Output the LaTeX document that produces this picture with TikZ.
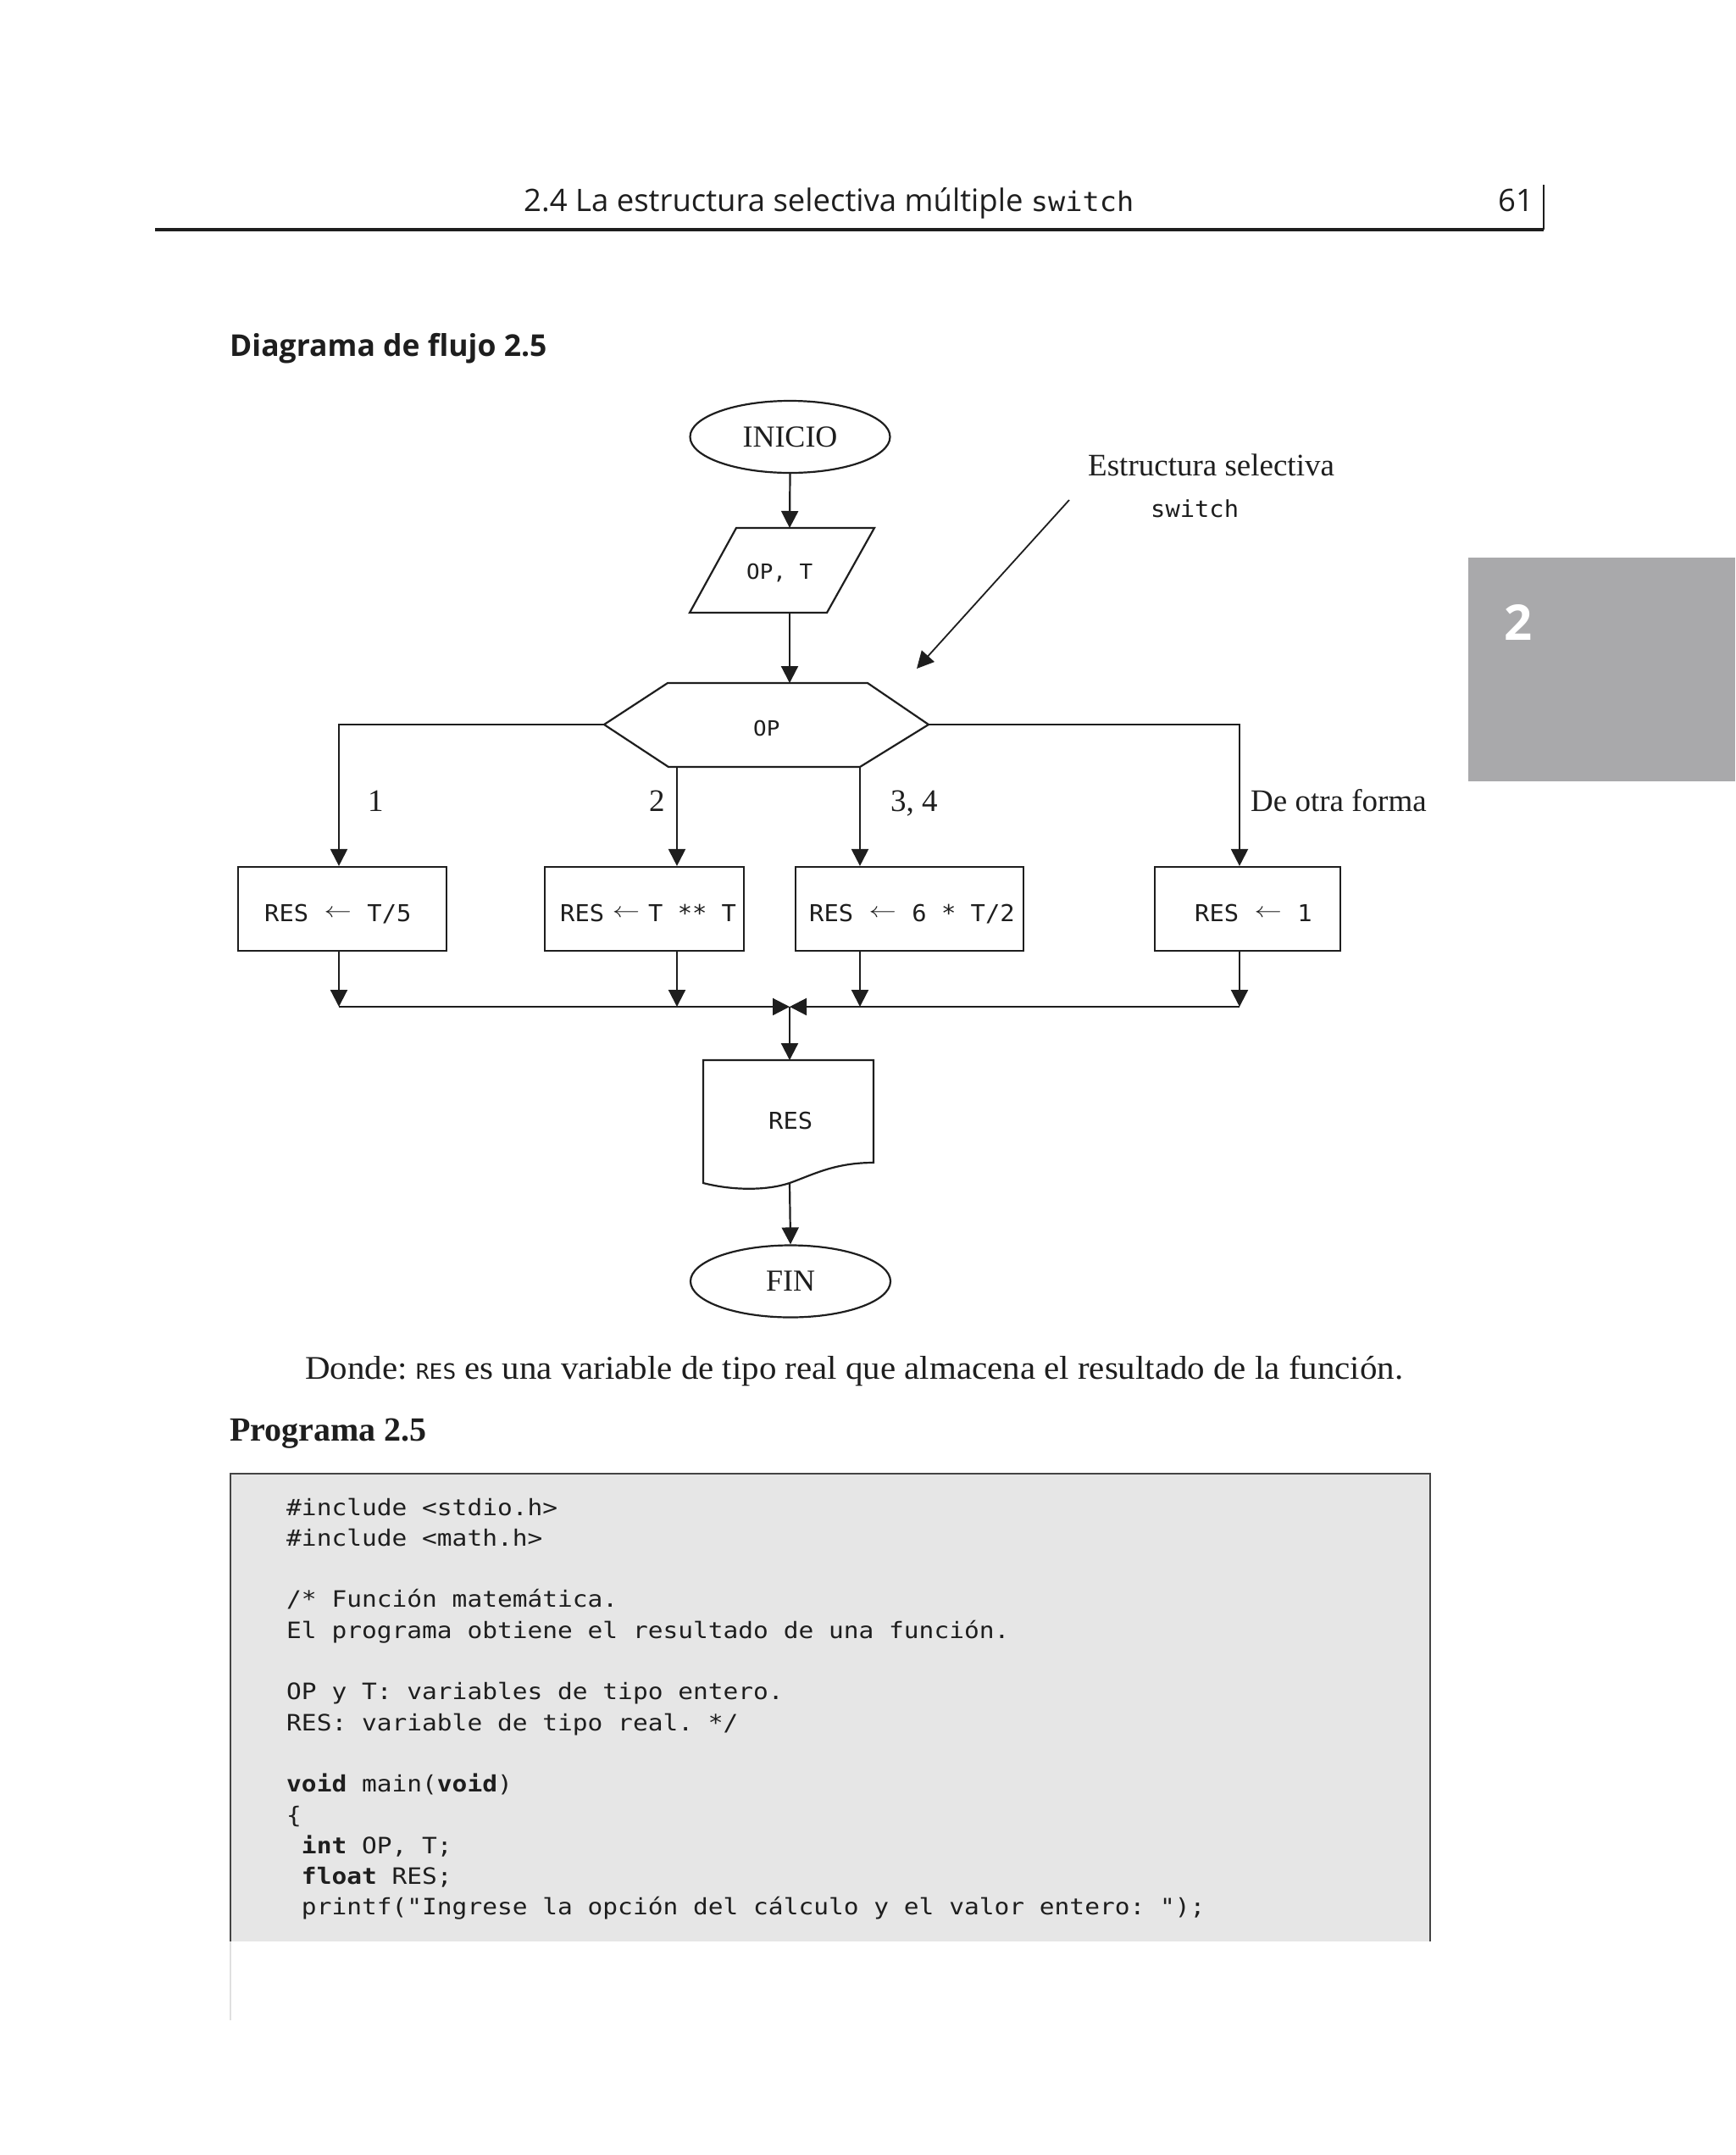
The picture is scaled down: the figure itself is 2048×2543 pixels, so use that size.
\documentclass[tikz,border=0pt]{standalone}
\usepackage{fontspec}
\usepackage{graphicx}
\setmainfont{Liberation Serif}
\newfontfamily\wideserif[FakeStretch=1.05]{Liberation Serif}
\newfontfamily\hdrfont{Open Sans}
\newfontfamily\boxfont[FakeStretch=1.05]{DejaVu Sans Mono}
\newfontfamily\codefont[FakeStretch=1.11]{DejaVu Sans Mono}
\usetikzlibrary{arrows.meta,shapes.geometric}
\definecolor{tabgray}{HTML}{A9A9AB}
\definecolor{codebg}{HTML}{E6E6E6}
\definecolor{ink}{HTML}{1E1E1E}
\definecolor{codeline}{HTML}{444444}
\newcommand{\fs}[1]{\fontsize{#1}{#1}\selectfont}
\newcommand{\larr}[1]{\settowidth{\dimen0}{0}\makebox[#1\dimen0][c]{\raisebox{4.5pt}{\scalebox{1.3}[1]{$\leftarrow$}}}}
\frenchspacing
\tikzset{
  flow/.style={draw=ink, line width=2.2pt},
  arr/.style={draw=ink, line width=2.2pt, -{Triangle[length=20pt,width=20pt]}},
  lbl/.style={anchor=base west, inner sep=0pt, text=ink},
  times/.style={lbl, font=\fs{37}},
  boxtxt/.style={lbl, font=\boxfont\fs{27.4}},
  smallbox/.style={lbl, font=\boxfont\fs{24.7}},
  codetxt/.style={lbl, font=\codefont\fs{26.6}},
  procbox/.style={flow, rectangle, inner sep=0pt},
  term/.style={flow, ellipse, inner sep=0pt, minimum width=236pt, minimum height=85pt, font=\fs{36}, text=ink},
}
\begin{document}
\begin{tikzpicture}[x=1pt,y=-1pt]
\useasboundingbox[fill=white] (0,0) rectangle (2048,2543);

% running head
\node[lbl, font=\hdrfont\fs{36.5}] (head) at (618,249) {2.4 La estructura selectiva múltiple {\boxfont\fs{32}switch}};
\node[lbl, font=\hdrfont\fs{36.5}] (pagenum) at (1768,249) {61};
\coordinate (ruleL) at (183,271);
\coordinate (ruleR) at (1822,271);
\coordinate (tickT) at (1822,218);
\draw[line width=3.5pt, ink] (ruleL) -- (ruleR);
\draw[line width=1.6pt, ink] (tickT) -- (ruleR);

% chapter tab
\fill[tabgray] (1733,658) rectangle (2048,922);
\node[lbl, text=white, font=\hdrfont\bfseries\fs{58}] (chap) at (1775,755) {2};

% caption
\node[lbl, font=\hdrfont\bfseries\fs{35.5}] (cap) at (271,420) {Diagrama de flujo 2.5};

% ---------------- flowchart ----------------
\node[term] (ini) at (932.5,515.5) {INICIO};

% parallelogram
\coordinate (pTop) at (932,623);
\coordinate (pBot) at (932,723);
\draw[flow] (869,623) -- (1032,623) -- (976,723) -- (814,723) -- cycle;
\node[smallbox] (opt) at (881,683) {OP, T};

% hexagon
\coordinate (hTop) at (932,806);
\coordinate (hL) at (713,855);
\coordinate (hR) at (1096,855);
\coordinate (hBL) at (799,905);
\coordinate (hBR) at (1015,905);
\draw[flow] (hL) -- (788,806) -- (1024,806) -- (hR) -- (1015,905) -- (789,905) -- cycle;
\node[smallbox] (op) at (889,868) {OP};

% annotation
\node[times] (est) at (1284,561) {Estructura selectiva};
\node[boxtxt] (sw) at (1358,610) {switch};
\coordinate (annS) at (1262,590);
\coordinate (annE) at (1082,789);

% process boxes
\node[procbox, minimum width=246pt, minimum height=99pt] (b1) at (404,1072.5) {};
\node[procbox, minimum width=235pt, minimum height=99pt] (b2) at (760.5,1072.5) {};
\node[procbox, minimum width=269pt, minimum height=99pt] (b3) at (1073.5,1072.5) {};
\node[procbox, minimum width=219pt, minimum height=99pt] (b4) at (1472.5,1072.5) {};
\node[boxtxt] (t1) at (312,1087) {RES \larr{2} T/5};
\node[boxtxt] (t2) at (661,1087) {RES\larr{3}T ** T};
\node[boxtxt] (t3) at (955,1087) {RES \larr{2} 6 * T/2};
\node[boxtxt] (t4) at (1410,1087) {RES \larr{2} 1};

% branch labels
\node[times] (l1) at (434,957) {1};
\node[times] (l2) at (766,957) {2};
\node[times] (l3) at (1051,957) {3, 4};
\node[times] (l4) at (1476,957) {De otra forma};

% merge points
\coordinate (m1) at (400,1188);
\coordinate (m2) at (799,1188);
\coordinate (m3) at (1015,1188);
\coordinate (m4) at (1463,1188);
\coordinate (mc) at (932,1188);

% document shape
\coordinate (docTop) at (932,1251);
\coordinate (docBot) at (932,1396);
\draw[flow] (830,1251) -- (1031,1251) -- (1031,1372)
  .. controls (985,1372) and (960,1386) .. (docBot)
  .. controls (905,1405) and (865,1405) .. (830,1396) -- cycle;
\node[boxtxt] (res) at (907,1332) {RES};

\node[term] (fin) at (933,1512) {FIN};

% connectors
\draw[arr] (ini.south) -- (pTop);
\draw[arr] (pBot) -- (hTop);
\draw[arr, line width=1.8pt] (annS) -- (annE);
\draw[arr] (hL) -| (b1.north -| m1);
\draw[arr] (hBL) -- (b2.north -| hBL);
\draw[arr] (hBR) -- (b3.north -| hBR);
\draw[arr] (hR) -| (b4.north -| m4);
\draw[arr] (b1.south -| m1) -- (m1);
\draw[arr] (b2.south -| m2) -- (m2);
\draw[arr] (b3.south -| m3) -- (m3);
\draw[arr] (b4.south -| m4) -- (m4);
\draw[arr] (m1) -- (mc);
\draw[arr] (m4) -- (mc);
\draw[arr] (mc) -- (docTop);
\draw[arr] (docBot) -- (fin.north);

% ---------------- text below ----------------
\node[lbl, font=\wideserif\fs{39}] (donde) at (360,1627) {\makebox[1296pt][s]{Donde: {\boxfont\fs{25}RES} es una variable de tipo real que almacena el resultado de la función.}};
\node[lbl, font=\bfseries\fs{40}] (prog) at (271,1700) {Programa 2.5};

% code box
\fill[codebg] (272,1739) rectangle (1688,2291);
\draw[line width=2pt, codeline] (272,2291) -- (272,1739) -- (1688,1739) -- (1688,2291);
\draw[line width=1.5pt, black!12] (272,2291) -- (272,2384);

\node[codetxt] (c0) at (338,1788) {\#include <stdio.h>};
\node[codetxt] (c1) at (338,1824.3) {\#include <math.h>};
\node[codetxt] (c3) at (338,1896.9) {/* Función matemática.};
\node[codetxt] (c4) at (338,1933.2) {El programa obtiene el resultado de una función.};
\node[codetxt] (c6) at (338,2005.8) {OP y T: variables de tipo entero.};
\node[codetxt] (c7) at (338,2042.1) {RES: variable de tipo real. */};
\node[codetxt] (c9) at (338,2114.7) {\textbf{void} main(\textbf{void})};
\node[codetxt] (c10) at (338,2151.0) {\{};
\node[codetxt] (c11) at (338,2187.3) {\ \textbf{int} OP, T;};
\node[codetxt] (c12) at (338,2223.6) {\ \textbf{float} RES;};
\node[codetxt] (c13) at (338,2259.9) {\ printf("Ingrese la opción del cálculo y el valor entero: ");};
\end{tikzpicture}
\end{document}
